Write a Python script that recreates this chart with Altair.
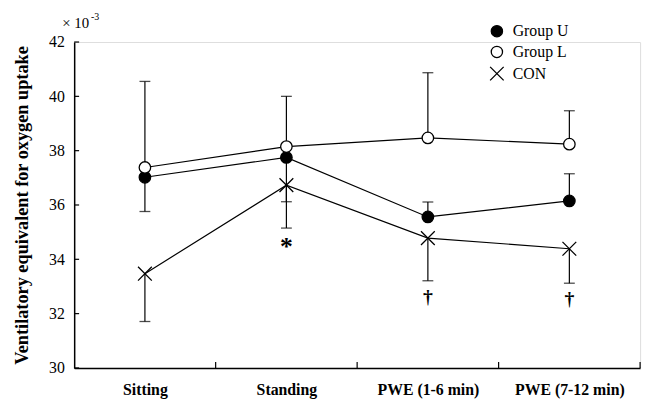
import altair as alt
import pandas as pd

categories = ["Sitting", "Standing", "PWE (1-6 min)", "PWE (7-12 min)"]
positions = [0.5, 1.5, 2.5, 3.5]
series_names = ["Group U", "Group L", "CON"]

group_u = [37.02, 37.75, 35.56, 36.15]
group_l = [37.38, 38.15, 38.47, 38.24]
con = [33.47, 36.73, 34.78, 34.39]

# error bar end values (SD whiskers as drawn)
group_u_err = [35.76, 36.12, 36.11, 37.15]
group_l_err = [40.55, 40.00, 40.87, 39.47]
con_err = [31.71, 35.15, 33.21, 33.12]

y_ticks = [30, 32, 34, 36, 38, 40, 42]
x_ticks = [1, 2, 3, 4]

star_pos = [1.5]
star_val = [34.45]
dagger_pos = [2.5, 3.5]
dagger_val = [32.6, 32.55]

W, H = 573, 330
SERIF = "Liberation Serif"

rows = []
cap_rows = []
for name, vals, errs in [("Group U", group_u, group_u_err),
                         ("Group L", group_l, group_l_err),
                         ("CON", con, con_err)]:
    for p, v, e in zip(positions, vals, errs):
        rows.append({"series": name, "pos": p, "value": v, "end": e})
        cap_rows.append({"series": name, "pos": p, "value": e})
df = pd.DataFrame(rows)
cap_df = pd.DataFrame(cap_rows)

label_expr = " : ".join(
    [f"datum.value == {p} ? '{c}'" for p, c in zip(positions, categories)]
) + " : ''"

x_enc = alt.X("pos:Q", scale=alt.Scale(domain=[0, 4], nice=False, zero=False),
              axis=alt.Axis(values=positions, labelExpr=label_expr, ticks=False,
                            tickSize=0, grid=False, title=None,
                            labelFont=SERIF, labelFontSize=16, labelFontWeight="bold",
                            labelColor="black", labelPadding=14,
                            domainColor="black", domainWidth=1.5))
y_enc = alt.Y("value:Q", scale=alt.Scale(domain=[30, 42], nice=False, zero=False),
              axis=alt.Axis(values=y_ticks, ticks=False, tickSize=0, grid=False,
                            title="Ventilatory equivalent for oxygen uptake",
                            titleFont=SERIF, titleFontSize=18.5, titleFontWeight="bold",
                            titleColor="black", titlePadding=17,
                            labelFont=SERIF, labelFontSize=16, labelColor="black",
                            labelPadding=10,
                            domainColor="black", domainWidth=1.5))

base = alt.Chart(df)

lines = base.mark_line(color="black", strokeWidth=1.2).encode(
    x=x_enc, y=y_enc, detail="series:N")

bars = base.mark_rule(color="black", strokeWidth=1.2).encode(
    x=x_enc, y=y_enc, y2="end:Q")

caps = alt.Chart(cap_df).mark_tick(color="black", orient="horizontal", size=11, thickness=1.3).encode(
    x=x_enc, y=y_enc)

XPATH = "M-1.2,-1.2L1.2,1.2M-1.2,1.2L1.2,-1.2"
leg = dict(title=None, orient="none", legendX=420, legendY=-19,
           labelFont=SERIF, labelFontSize=16, labelColor="black",
           symbolStrokeWidth=1.3, symbolSize=130, rowPadding=3, labelOffset=8)
points = base.mark_point(filled=False, strokeWidth=1.3, size=135, opacity=1, fillOpacity=1).encode(
    x=x_enc, y=y_enc,
    shape=alt.Shape("series:N",
                    scale=alt.Scale(domain=series_names, range=["circle", "circle", XPATH]),
                    legend=alt.Legend(**leg)),
    fill=alt.Fill("series:N",
                  scale=alt.Scale(domain=series_names, range=["black", "white", "transparent"]),
                  legend=alt.Legend(**leg)),
    stroke=alt.Stroke("series:N",
                      scale=alt.Scale(domain=series_names, range=["black", "black", "black"]),
                      legend=alt.Legend(**leg)),
)

ytick_df = pd.DataFrame({"value": y_ticks})
yticks = alt.Chart(ytick_df).mark_rule(color="black", strokeWidth=1.2).encode(
    y=y_enc, x=alt.value(0), x2=alt.value(5))

xtick_df = pd.DataFrame({"pos": x_ticks})
xticks = alt.Chart(xtick_df).mark_rule(color="black", strokeWidth=1.2).encode(
    x=x_enc, y=alt.value(H), y2=alt.value(H - 6))

star_df = pd.DataFrame({"pos": star_pos, "value": star_val, "t": ["*"] * len(star_pos)})
stars = alt.Chart(star_df).mark_text(font=SERIF, fontSize=26, fontWeight="bold",
                                     color="black", baseline="middle").encode(
    x=x_enc, y=y_enc, text="t:N")

dagger_df = pd.DataFrame({"pos": dagger_pos, "value": dagger_val, "t": ["\u2020"] * len(dagger_pos)})
daggers = alt.Chart(dagger_df).mark_text(font=SERIF, fontSize=20, fontWeight="bold",
                                         color="black", baseline="middle").encode(
    x=x_enc, y=y_enc, text="t:N")

exp_main = alt.Chart(pd.DataFrame({"t": ["\u00d7 10"]})).mark_text(
    font=SERIF, fontSize=15, color="black", align="left", baseline="middle").encode(
    x=alt.value(-12), y=alt.value(-19), text="t:N")
exp_sup = alt.Chart(pd.DataFrame({"t": ["-3"]})).mark_text(
    font=SERIF, fontSize=10, color="black", align="left", baseline="middle").encode(
    x=alt.value(17), y=alt.value(-25), text="t:N")

chart = alt.layer(lines, bars, caps, points, yticks, xticks, stars, daggers, exp_main, exp_sup).properties(
    width=W, height=H,
    autosize=alt.AutoSizeParams(type="none"),
    padding={"left": 67, "top": 32, "right": 8, "bottom": 30},
).configure_view(stroke=None).configure(background="white")

chart.save("out.html", embed_options={"renderer": "svg", "actions": False})
